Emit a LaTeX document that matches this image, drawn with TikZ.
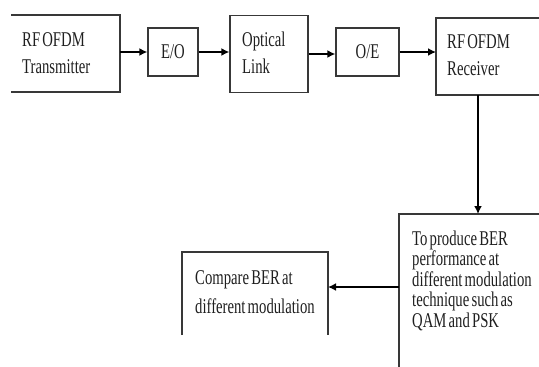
\documentclass[tikz,border=0pt]{standalone}
\usepackage{fontspec}
\setmainfont{Liberation Serif}[FakeStretch=0.7, WordSpace=0.6]
\usetikzlibrary{arrows.meta}
\begin{document}
\begin{tikzpicture}[x=1pt,y=-1pt,
  boxline/.style={draw=black!78, line width=1.3pt},
  conn/.style={draw=black, line width=1.6pt, -{Latex[length=8pt,width=8pt]}},
  txt/.style={anchor=base west, inner sep=0pt, align=left, font=\fontsize{21}{27}\selectfont, text=black!88},
  btxt/.style={anchor=base west, inner sep=0pt, align=left, font=\fontsize{21}{20.5}\selectfont, text=black!88},
  ctxt/.style={anchor=base west, inner sep=0pt, align=left, font=\fontsize{21}{28.5}\selectfont, text=black!88},
  blk/.style={boxline, inner sep=0pt, font=\fontsize{21}{25}\selectfont, text=black!88},
]
\useasboundingbox (0,0) rectangle (539,367);
\clip (0,0) rectangle (539,367);

% RF OFDM Transmitter (left side not shown)
\draw[boxline] (11,15) -- (120,15) -- (120,92) -- (11,92);
\coordinate (txe) at (120,52);
\node[txt] (txtext) at (22,73) {RF OFDM\\Transmitter};

% E/O
\node[blk, minimum width=50pt, minimum height=48pt] (eo) at (173,52) {E/O};

% Optical Link
\node[boxline, minimum width=78pt, minimum height=77pt, inner sep=0pt] (opt) at (269,54) {};
\node[txt] (opttext) at (242,73) {Optical\\Link};

% O/E
\node[blk, minimum width=63pt, minimum height=48pt] (oe) at (367.5,52) {O/E};

% RF OFDM Receiver (right side cut)
\draw[boxline] (560,18) -- (436,18) -- (436,95) -- (560,95);
\coordinate (rxw) at (436,50);
\coordinate (rxs) at (478,95);
\node[txt] (rxtext) at (447,75) {RF OFDM\\Receiver};

% BER box (cut at right and bottom)
\draw[boxline] (560,214) -- (399,214) -- (399,380);
\coordinate (bern) at (478,214);
\coordinate (berw) at (399,287);
\node[btxt] (bertext) at (412,327) {To produce BER\\performance at\\different modulation\\technique such as\\QAM and PSK};

% Compare box (bottom open)
\draw[boxline] (182,335) -- (182,252) -- (328,252) -- (328,335);
\coordinate (cmpe) at (328,287);
\node[ctxt] (cmptext) at (195,313) {Compare BER at\\different modulation};

% connectors
\draw[conn] (txe) -- (eo.west |- txe);
\draw[conn] (eo.east) -- (eo.east -| opt.west);
\draw[conn] (opt.east) -- (opt.east -| oe.west);
\draw[conn] (oe.east) -- (oe.east -| rxw);
\draw[conn] (rxs) -- (bern);
\draw[conn] (berw) -- (cmpe);
\end{tikzpicture}
\end{document}
